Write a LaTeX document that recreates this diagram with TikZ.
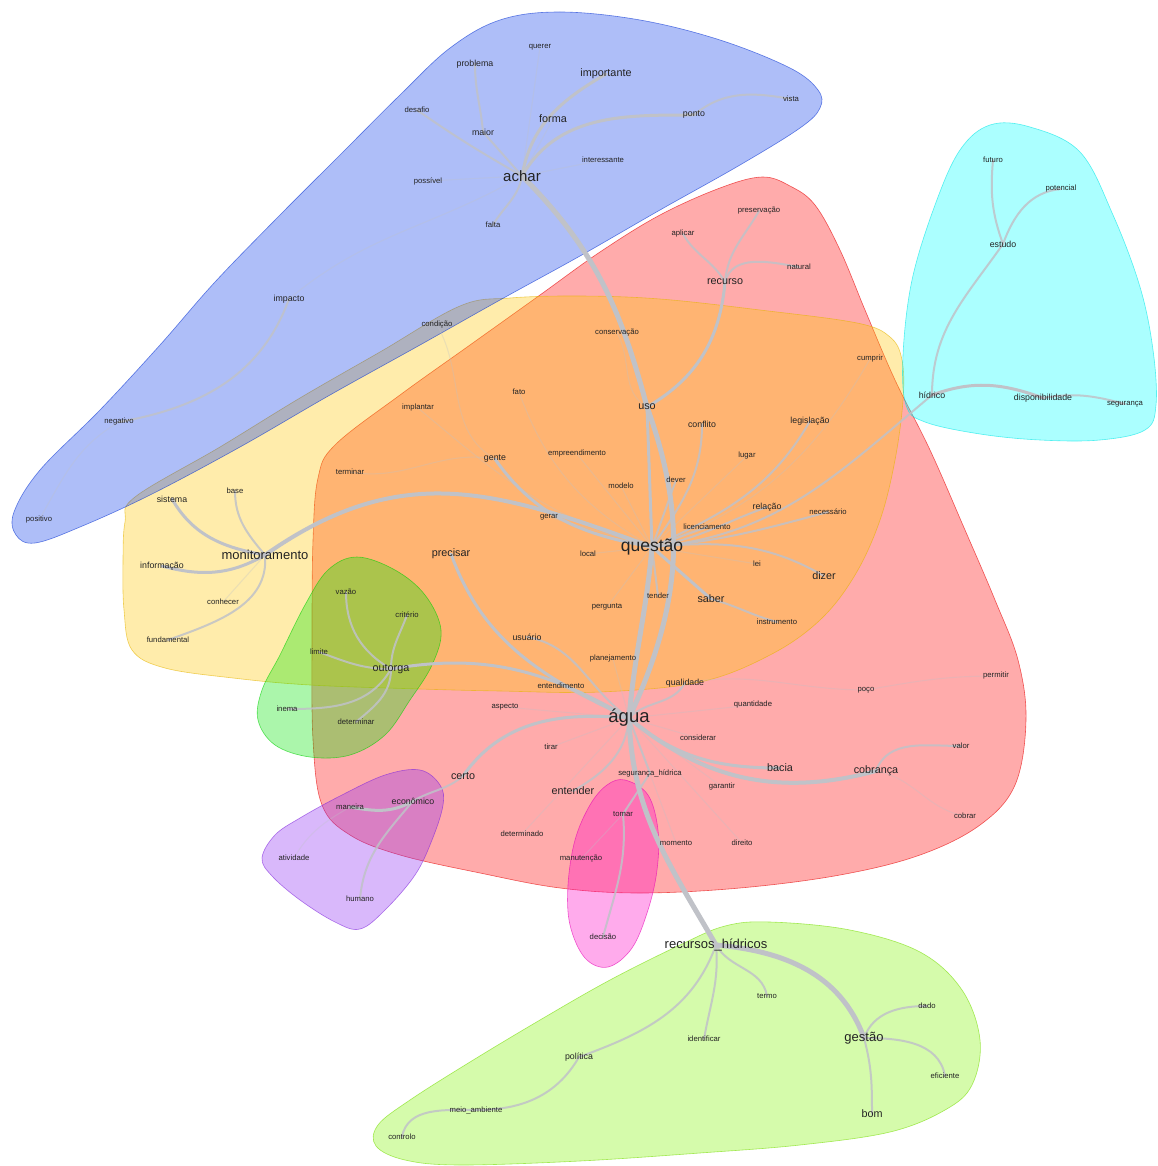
\documentclass[tikz,border=0pt]{standalone}
\usepackage{fontspec}
\setmainfont{Liberation Sans}
\pgfdeclarelayer{hull}
\pgfdeclarelayer{edge}
\pgfsetlayers{hull,edge,main}
\definecolor{cred}{RGB}{255,0,0}
\definecolor{cyel}{RGB}{255,200,0}
\definecolor{cblue}{RGB}{10,58,234}
\definecolor{ccyan}{RGB}{0,255,255}
\definecolor{cgreen}{RGB}{0,230,0}
\definecolor{cpurp}{RGB}{140,40,245}
\definecolor{cpink}{RGB}{255,0,200}
\definecolor{clime}{RGB}{130,245,0}
\definecolor{edgec}{RGB}{192,194,200}
\definecolor{txt}{RGB}{35,35,35}
\begin{document}
\begin{tikzpicture}[x=1pt,y=1pt,
  hull/.style={fill=#1, fill opacity=0.33, draw=#1!90!black, draw opacity=0.6, line width=0.6pt},
  wbase/.style={inner sep=0.5pt, text=txt},
  wa/.style={wbase, font=\fontsize{7.7pt}{8pt}\selectfont},
  wb/.style={wbase, font=\fontsize{8.8pt}{9pt}\selectfont},
  wc/.style={wbase, font=\fontsize{10.8pt}{11pt}\selectfont},
  wd/.style={wbase, font=\fontsize{13pt}{14pt}\selectfont},
  wachar/.style={wbase, font=\fontsize{15pt}{16pt}\selectfont},
  wquestao/.style={wbase, font=\fontsize{17.5pt}{18pt}\selectfont},
  wagua/.style={wbase, font=\fontsize{18.5pt}{19pt}\selectfont},
  e5/.style={draw=edgec, line width=5pt, line cap=round},
  e4/.style={draw=edgec, line width=4pt, line cap=round},
  e3/.style={draw=edgec, line width=3pt, line cap=round},
  e2/.style={draw=edgec, line width=2pt, line cap=round, draw opacity=0.85},
  e1/.style={draw=edgec, line width=1.1pt, line cap=round, draw opacity=0.3}]
\useasboundingbox (0,0) rectangle (1157,-1166);
\begin{pgfonlayer}{hull}
\fill[white] (0,0) rectangle (1157,-1166);
% red
\path[hull=cred] plot[smooth cycle,tension=0.6] coordinates {(762,-177) (790,-186) (815,-205) (840,-250) (865,-310) (895,-380) (930,-450) (965,-530) (995,-600) (1018,-660) (1026,-720) (1015,-785) (980,-825) (920,-855) (840,-875) (740,-888) (640,-893) (560,-888) (480,-873) (400,-855) (350,-835) (322,-805) (313,-740) (312,-640) (313,-540) (318,-478) (335,-445) (400,-395) (470,-345) (540,-295) (600,-252) (660,-215) (720,-188)};
% yellow
\path[hull=cyel] plot[smooth cycle,tension=0.6] coordinates {(135,-497) (220,-447) (300,-398) (380,-352) (460,-306) (510,-298) (580,-296) (660,-299) (760,-310) (857,-323) (890,-337) (902,-360) (903,-400) (895,-460) (880,-520) (855,-575) (820,-620) (770,-655) (700,-682) (600,-692) (500,-691) (420,-689) (310,-685) (233,-678) (165,-668) (132,-650) (124,-610) (123,-560) (125,-522)};
% blue
\path[hull=cblue] plot[smooth cycle,tension=0.6] coordinates {(14,-512) (40,-470) (100,-410) (160,-345) (215,-282) (280,-215) (340,-155) (400,-95) (450,-48) (500,-20) (560,-12) (640,-20) (720,-40) (790,-68) (818,-90) (820,-108) (800,-128) (740,-165) (660,-210) (580,-256) (500,-300) (420,-345) (330,-395) (240,-447) (150,-495) (80,-527) (35,-543) (16,-535)};
% cyan
\path[hull=ccyan] plot[smooth cycle,tension=0.6] coordinates {(990,-125) (1030,-127) (1080,-152) (1113,-215) (1140,-287) (1153,-350) (1156,-405) (1145,-430) (1100,-440) (1040,-440) (980,-434) (925,-422) (906,-405) (903,-355) (912,-280) (935,-205) (960,-150)};
% green
\path[hull=cgreen] plot[smooth cycle,tension=0.6] coordinates {(357,-557) (395,-570) (425,-595) (441,-630) (432,-665) (410,-700) (385,-735) (350,-755) (310,-757) (275,-745) (258,-720) (262,-690) (280,-655) (305,-605) (328,-570)};
% purple
\path[hull=cpurp] plot[smooth cycle,tension=0.6] coordinates {(420,-770) (440,-785) (443,-805) (432,-840) (415,-875) (385,-910) (360,-929) (335,-922) (300,-900) (272,-876) (262,-858) (275,-835) (300,-818) (340,-796) (385,-775)};
% pink
\path[hull=cpink] plot[smooth cycle,tension=0.6] coordinates {(625,-780) (648,-795) (658,-830) (657,-870) (648,-910) (632,-948) (608,-967) (585,-958) (570,-925) (568,-885) (575,-840) (590,-805) (607,-785)};
% lime
\path[hull=clime] plot[smooth cycle,tension=0.6] coordinates {(770,-922) (850,-930) (920,-952) (962,-990) (980,-1040) (972,-1085) (945,-1110) (890,-1132) (800,-1145) (700,-1153) (580,-1161) (460,-1165) (405,-1160) (376,-1146) (378,-1125) (410,-1100) (470,-1062) (540,-1020) (610,-980) (680,-945) (725,-926)};
\end{pgfonlayer}
% blue cluster
\node[wa] (querer) at (540,-47) {querer};
\node[wb] (problema) at (475,-64) {problema};
\node[wc] (importante) at (606,-74) {importante};
\node[wa] (desafio) at (417,-110) {desafio};
\node[wb] (maior) at (483,-132) {maior};
\node[wc] (forma) at (553,-119) {forma};
\node[wb] (ponto) at (694,-115) {ponto};
\node[wa] (vista) at (791,-99) {vista};
\node[wa] (interessante) at (603,-160) {interessante};
\node[wa] (possivel) at (428,-181) {possível};
\node[wachar] (achar) at (522,-176) {achar};
\node[wa] (falta) at (493,-225) {falta};
\node[wb] (impacto) at (289,-299) {impacto};
\node[wa] (negativo) at (119,-422) {negativo};
\node[wa] (positivo) at (39,-520) {positivo};
\node[wa] (condicao) at (437,-325) {condição};
% red cluster
\node[wa] (preservacao) at (759,-211) {preservação};
\node[wa] (aplicar) at (683,-234) {aplicar};
\node[wa] (natural) at (799,-267) {natural};
\node[wc] (recurso) at (725,-282) {recurso};
\node[wa] (conservacao) at (617,-333) {conservação};
\node[wa] (fato) at (519,-392) {fato};
\node[wa] (implantar) at (418,-408) {implantar};
\node[wc] (uso) at (647,-407) {uso};
\node[wb] (conflito) at (702,-424) {conflito};
\node[wb] (legislacao) at (810,-421) {legislação};
\node[wa] (cumprir) at (870,-359) {cumprir};
\node[wb] (gente) at (495,-459) {gente};
\node[wa] (empreendimento) at (577,-454) {empreendimento};
\node[wa] (lugar) at (747,-456) {lugar};
\node[wa] (terminar) at (350,-472) {terminar};
\node[wa] (modelo) at (621,-486) {modelo};
\node[wa] (dever) at (676,-480) {dever};
\node[wa] (gerar) at (549,-517) {gerar};
\node[wb] (relacao) at (767,-507) {relação};
\node[wa] (necessario) at (828,-512) {necessário};
\node[wa] (licenciamento) at (707,-527) {licenciamento};
\node[wquestao] (questao) at (652,-547) {questão};
\node[wc] (precisar) at (451,-554) {precisar};
\node[wa] (local) at (588,-554) {local};
\node[wa] (lei) at (757,-564) {lei};
\node[wc] (dizer) at (824,-576) {dizer};
\node[wa] (tender) at (658,-596) {tender};
\node[wc] (saber) at (711,-599) {saber};
\node[wa] (pergunta) at (607,-607) {pergunta};
\node[wa] (instrumento) at (777,-622) {instrumento};
\node[wb] (usuario) at (527,-637) {usuário};
\node[wa] (planejamento) at (613,-659) {planejamento};
\node[wa] (entendimento) at (561,-686) {entendimento};
\node[wb] (qualidade) at (685,-683) {qualidade};
\node[wa] (permitir) at (996,-676) {permitir};
\node[wa] (poco) at (866,-690) {poço};
\node[wa] (quantidade) at (753,-705) {quantidade};
\node[wa] (aspecto) at (505,-707) {aspecto};
\node[wagua] (agua) at (629,-718) {água};
\node[wa] (considerar) at (698,-738) {considerar};
\node[wa] (valor) at (961,-746) {valor};
\node[wa] (tirar) at (551,-747) {tirar};
\node[wc] (bacia) at (780,-768) {bacia};
\node[wc] (cobranca) at (876,-771) {cobrança};
\node[wc] (certo) at (463,-776) {certo};
\node[wa] (segh) at (650,-773) {segurança\_hídrica};
\node[wc] (entender) at (573,-791) {entender};
\node[wa] (garantir) at (722,-787) {garantir};
\node[wa] (cobrar) at (965,-816) {cobrar};
\node[wa] (determinado) at (522,-834) {determinado};
\node[wa] (momento) at (676,-843) {momento};
\node[wa] (direito) at (742,-843) {direito};
\node[wa] (manutencao) at (581,-859) {manutenção};
% yellow cluster
\node[wb] (sistema) at (172,-499) {sistema};
\node[wa] (base) at (235,-491) {base};
\node[wd] (monitoramento) at (265,-555) {monitoramento};
\node[wb] (informacao) at (162,-566) {informação};
\node[wa] (conhecer) at (223,-602) {conhecer};
\node[wa] (fundamental) at (168,-640) {fundamental};
% green cluster
\node[wa] (vazao) at (346,-592) {vazão};
\node[wa] (criterio) at (407,-615) {critério};
\node[wa] (limite) at (319,-652) {limite};
\node[wc] (outorga) at (391,-669) {outorga};
\node[wa] (inema) at (287,-709) {inema};
\node[wa] (determinar) at (356,-722) {determinar};
% cyan cluster
\node[wa] (futuro) at (993,-160) {futuro};
\node[wa] (potencial) at (1061,-189) {potencial};
\node[wb] (estudo) at (1003,-244) {estudo};
\node[wb] (hidrico) at (932,-395) {hídrico};
\node[wb] (disponibilidade) at (1043,-398) {disponibilidade};
\node[wa] (seguranca) at (1125,-404) {segurança};
% purple cluster
\node[wa] (maneira) at (350,-807) {maneira};
\node[wb] (economico) at (413,-801) {econômico};
\node[wa] (atividade) at (294,-858) {atividade};
\node[wa] (humano) at (360,-899) {humano};
% pink cluster
\node[wa] (tomar) at (623,-814) {tomar};
\node[wa] (decisao) at (603,-937) {decisão};
% lime cluster
\node[wd] (rh) at (716,-945) {recursos\_hídricos};
\node[wa] (termo) at (767,-996) {termo};
\node[wa] (dado) at (927,-1006) {dado};
\node[wa] (identificar) at (704,-1039) {identificar};
\node[wd] (gestao) at (864,-1038) {gestão};
\node[wb] (politica) at (579,-1057) {política};
\node[wa] (eficiente) at (945,-1076) {eficiente};
\node[wa] (meioamb) at (476,-1110) {meio\_ambiente};
\node[wc] (bom) at (872,-1114) {bom};
\node[wa] (controlo) at (402,-1137) {controlo};

\begin{pgfonlayer}{edge}
% faint
\draw[e1] (achar.center) -- (querer.center);
\draw[e1] (achar.center) -- (possivel.center);
\draw[e1] (achar.center) -- (interessante.center);
\draw[e1] (achar.center) -- (forma.center);
\draw[e1] (impacto.center) to[out=40,in=-150] (achar.center);
\draw[e1] (negativo.center) to[out=-150,in=60] (positivo.center);
\draw[e1] (condicao.center) to[out=-60,in=150] (gente.center);
\draw[e1] (uso.center) to[out=150,in=-60] (conservacao.center);
\draw[e1] (questao.center) to[out=150,in=-70] (fato.center);
\draw[e1] (implantar.center) to[out=-40,in=165] (questao.center);
\draw[e1] (empreendimento.center) -- (questao.center);
\draw[e1] (modelo.center) -- (questao.center);
\draw[e1] (lugar.center) -- (questao.center);
\draw[e1] (gerar.center) -- (questao.center);
\draw[e1] (local.center) -- (questao.center);
\draw[e1] (lei.center) -- (questao.center);
\draw[e1] (pergunta.center) -- (questao.center);
\draw[e1] (cumprir.center) to[out=-120,in=20] (questao.center);
\draw[e1] (terminar.center) to[out=-10,in=170] (gente.center);
\draw[e1] (entendimento.center) -- (agua.center);
\draw[e1] (planejamento.center) -- (agua.center);
\draw[e1] (aspecto.center) -- (agua.center);
\draw[e1] (tirar.center) -- (agua.center);
\draw[e1] (quantidade.center) -- (agua.center);
\draw[e1] (considerar.center) -- (agua.center);
\draw[e1] (garantir.center) -- (agua.center);
\draw[e1] (momento.center) -- (agua.center);
\draw[e1] (direito.center) -- (agua.center);
\draw[e1] (determinado.center) -- (agua.center);
\draw[e1] (qualidade.center) to[out=10,in=180] (poco.center);
\draw[e1] (poco.center) to[out=10,in=180] (permitir.center);
\draw[e1] (cobranca.center) to[out=-10,in=170] (cobrar.center);
\draw[e1] (tomar.center) -- (manutencao.center);
\draw[e1] (monitoramento.center) -- (conhecer.center);
\draw[e1] (maneira.center) to[out=-150,in=60] (atividade.center);
% thin
\draw[e2] (achar.center) -- (maior.center);
\draw[e2] (maior.center) to[out=95,in=-90] (problema.center);
\draw[e2] (achar.center) to[out=150,in=-35] (desafio.center);
\draw[e2] (achar.center) to[out=-100,in=60] (falta.center);
\draw[e2] (impacto.center) to[out=-110,in=10] (negativo.center);
\draw[e2] (recurso.center) to[out=75,in=170] (natural.center);
\draw[e2] (recurso.center) to[out=85,in=-120] (preservacao.center);
\draw[e2] (recurso.center) to[out=120,in=-60] (aplicar.center);
\draw[e2] (base.center) to[out=-90,in=130] (monitoramento.center);
\draw[e2] (monitoramento.center) to[out=-85,in=20] (fundamental.center);
\draw[e2] (outorga.center) to[out=150,in=-90] (vazao.center);
\draw[e2] (outorga.center) to[out=90,in=-110] (criterio.center);
\draw[e2] (outorga.center) to[out=180,in=-20] (limite.center);
\draw[e2] (outorga.center) to[out=-120,in=0] (inema.center);
\draw[e2] (outorga.center) to[out=-90,in=40] (determinar.center);
\draw[e2] (estudo.center) to[out=110,in=-95] (futuro.center);
\draw[e2] (estudo.center) to[out=70,in=185] (potencial.center);
\draw[e2] (disponibilidade.center) to[out=10,in=165] (seguranca.center);
\draw[e2] (dever.center) -- (questao.center);
\draw[e2] (conflito.center) to[out=-90,in=55] (questao.center);
\draw[e2] (licenciamento.center) -- (questao.center);
\draw[e2] (relacao.center) to[out=-160,in=10] (questao.center);
\draw[e2] (legislacao.center) to[out=-120,in=25] (questao.center);
\draw[e2] (necessario.center) to[out=-165,in=5] (questao.center);
\draw[e2] (questao.center) to[out=5,in=150] (dizer.center);
\draw[e2] (saber.center) to[out=-15,in=165] (instrumento.center);
\draw[e2] (tender.center) -- (questao.center);
\draw[e2] (usuario.center) to[out=-10,in=145] (agua.center);
\draw[e2] (agua.center) to[out=45,in=-120] (qualidade.center);
\draw[e2] (agua.center) -- (segh.center);
\draw[e2] (segh.center) -- (tomar.center);
\draw[e2] (tomar.center) to[out=-85,in=75] (decisao.center);
\draw[e2] (entender.center) to[out=30,in=-95] (agua.center);
\draw[e2] (cobranca.center) to[out=70,in=180] (valor.center);
\draw[e2] (economico.center) to[out=-130,in=85] (humano.center);
\draw[e2] (rh.center) to[out=-60,in=100] (termo.center);
\draw[e2] (rh.center) to[out=-85,in=80] (identificar.center);
\draw[e2] (politica.center) to[out=-120,in=0] (meioamb.center);
\draw[e2] (meioamb.center) to[out=180,in=80] (controlo.center);
\draw[e2] (gestao.center) to[out=70,in=180] (dado.center);
\draw[e2] (gestao.center) to[out=0,in=100] (eficiente.center);
\draw[e2] (gestao.center) to[out=-75,in=90] (bom.center);
\draw[e2] (ponto.center) to[out=40,in=170] (vista.center);
\draw[e2] (hidrico.center) to[out=90,in=-125] (estudo.center);
\draw[e2] (hidrico.center) to[out=-140,in=5] (questao.center);
\draw[e2] (certo.center) to[out=-140,in=30] (economico.center);
\draw[e2] (rh.center) to[out=-110,in=20] (politica.center);
% medium
\draw[e3] (uso.center) -- (questao.center);
\draw[e3] (recurso.center) to[out=-95,in=30] (uso.center);
\draw[e3] (achar.center) to[out=80,in=-150] (importante.center);
\draw[e3] (achar.center) to[out=60,in=180] (ponto.center);
\draw[e3] (hidrico.center) to[out=20,in=160] (disponibilidade.center);
\draw[e3] (sistema.center) to[out=-60,in=170] (monitoramento.center);
\draw[e3] (informacao.center) to[out=-15,in=-150] (monitoramento.center);
\draw[e3] (agua.center) to[out=175,in=55] (certo.center);
\draw[e3] (outorga.center) to[out=10,in=150] (agua.center);
\draw[e3] (precisar.center) to[out=-70,in=155] (agua.center);
\draw[e3] (gente.center) to[out=-55,in=170] (questao.center);
\draw[e3] (questao.center) -- (saber.center);
\draw[e3] (economico.center) to[out=-150,in=-10] (maneira.center);
\draw[e3] (agua.center) to[out=-40,in=180] (bacia.center);
% thick
\draw[e4] (monitoramento.center) to[out=35,in=160,looseness=1.1] (questao.center);
\draw[e4] (agua.center) to[out=-40,in=195] (cobranca.center);
\draw[e5] (achar.center) to[out=-45,in=105] (uso.center);
\draw[e5] (uso.center) to[out=-70,in=65] (agua.center);
\draw[e5] (questao.center) to[out=-95,in=85] (agua.center);
\draw[e5] (agua.center) to[out=-88,in=120] (rh.center);
\draw[e5] (rh.center) to[out=-5,in=110] (gestao.center);
\end{pgfonlayer}
\end{tikzpicture}
\end{document}
